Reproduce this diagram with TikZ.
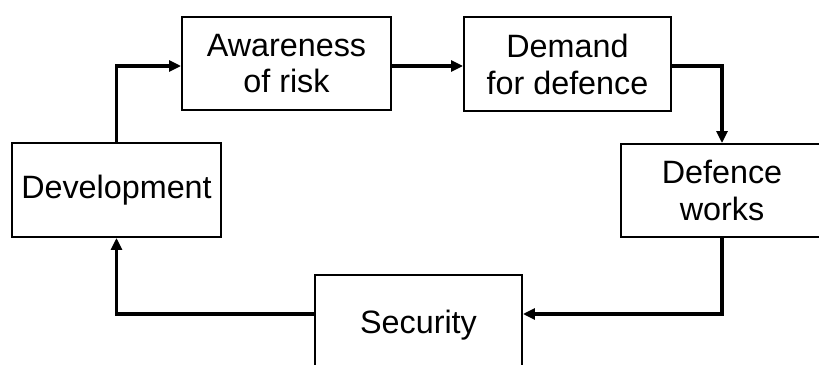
\documentclass[tikz,border=0pt]{standalone}
\usepackage{fontspec}
\setmainfont{Liberation Sans}
\usetikzlibrary{arrows.meta,positioning,calc}

\begin{document}
\begin{tikzpicture}[x=0.02cm,y=-0.02cm,>={Triangle[length=0.24cm,width=0.22cm]}]
    \tikzset{
      stage/.style={draw,line width=1.1pt,align=center,inner sep=0pt,
        font=\fontsize{18.4}{21}\selectfont},
      link/.style={->,line width=2pt}
    }
    \useasboundingbox (0,0) rectangle (819,365);
    \clip (0,0) rectangle (819,365);
    % stages of the cycle
    \node[stage,minimum width=209*0.02cm,minimum height=93*0.02cm] (aware) at (286.5,63.5) {Awareness\\of risk};
    \node[stage,minimum width=207*0.02cm,minimum height=94*0.02cm] (demand) at (567.5,64) {Demand\\for defence};
    \node[stage,minimum width=202*0.02cm,minimum height=93*0.02cm] (works) at (722,190.5) {Defence\\works};
    \node[stage,minimum width=207*0.02cm,minimum height=100*0.02cm] (secure) at (418.5,325) {Security};
    \node[stage,minimum width=209*0.02cm,minimum height=94*0.02cm] (devel) at (116.5,190) {Development};
    % levels of the upper and lower loop
    \coordinate (highloop) at (418.5,66);
    \coordinate (lowloop) at (418.5,314);
    % connectors
    \draw[link] (devel.north) |- (aware.west |- highloop);
    \draw[link] (aware.east |- highloop) -- (demand.west |- highloop);
    \draw[link] (demand.east |- highloop) -| (works.north);
    \draw[link] (works.south) |- (secure.east |- lowloop);
    \draw[link] (secure.west |- lowloop) -| (devel.south);
\end{tikzpicture}
\end{document}
